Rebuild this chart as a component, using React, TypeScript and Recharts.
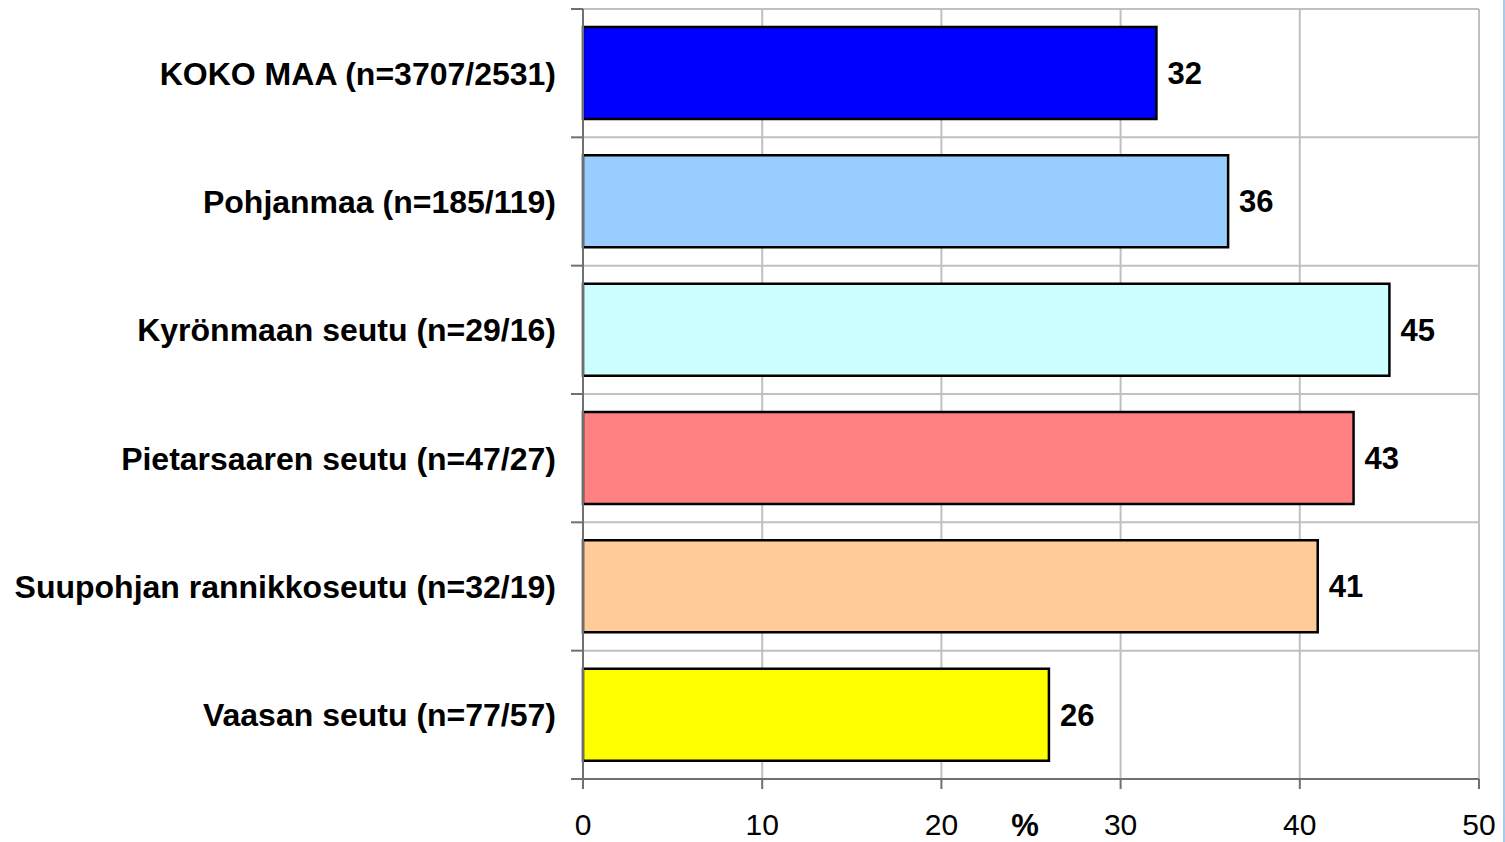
import React from "react";
import { BarChart, Bar, XAxis, YAxis, CartesianGrid, Cell, LabelList } from "recharts";

const categories = [
  "KOKO MAA (n=3707/2531)",
  "Pohjanmaa (n=185/119)",
  "Kyrönmaan seutu (n=29/16)",
  "Pietarsaaren seutu (n=47/27)",
  "Suupohjan rannikkoseutu (n=32/19)",
  "Vaasan seutu (n=77/57)",
];
const values = [32, 36, 45, 43, 41, 26];
const barColors = ["#0000ff", "#99ccff", "#ccffff", "#ff8080", "#ffcc99", "#ffff00"];
const xTicks = [0, 10, 20, 30, 40, 50];

const data = categories.map((name, i) => ({ name, value: values[i] }));

const FONT = "Liberation Sans, Arial, sans-serif";
const W = 1505;
const H = 842;
const TOP = 9;
const XAXIS_H = 63;
const HALF_BAND = (H - TOP - XAXIS_H) / categories.length / 2;

// category label plus tick marks at the band edges
const CategoryTick = (props: any) => {
  const { x, y, payload, index } = props;
  const axisX = x + 15 + 12;
  return (
    <g>
      <line x1={axisX - 12} x2={axisX} y1={y - HALF_BAND} y2={y - HALF_BAND} stroke="#707070" strokeWidth={2} />
      {index === categories.length - 1 && (
        <line x1={axisX - 12} x2={axisX} y1={y + HALF_BAND} y2={y + HALF_BAND} stroke="#707070" strokeWidth={2} />
      )}
      <text x={x} y={y} dy="0.355em" textAnchor="end" fill="#000" fontSize={32} fontWeight="bold" fontFamily={FONT}>
        {payload.value}
      </text>
    </g>
  );
};

const NumberTick = (props: any) => {
  const { x, y, payload } = props;
  return (
    <text x={x} y={y} dy="0.71em" textAnchor="middle" fill="#000" fontSize={30} fontFamily={FONT}>
      {payload.value}
    </text>
  );
};

export default function App() {
  return (
    <div style={{ position: "fixed", left: 0, top: 0, width: W, height: H, background: "#fff" }}>
      <div style={{ position: "absolute", left: 1503, top: 0, width: 2, height: H, background: "#a6cdf0" }} />
      <BarChart
        layout="vertical"
        width={W}
        height={H}
        data={data}
        margin={{ top: TOP, right: 26, left: 0, bottom: 0 }}
        style={{ fontFamily: FONT }}
      >
        <CartesianGrid
          stroke="#c0c0c0"
          strokeWidth={2}
          horizontalCoordinatesGenerator={({ offset }: any) =>
            categories.map((_, i) => offset.top + (i * offset.height) / categories.length).concat(offset.top + offset.height)
          }
        />
        <XAxis
          type="number"
          domain={[0, 50]}
          ticks={xTicks}
          interval={0}
          height={XAXIS_H}
          tickSize={10}
          tickMargin={25}
          axisLine={{ stroke: "#707070", strokeWidth: 2 }}
          tickLine={{ stroke: "#707070", strokeWidth: 2 }}
          tick={<NumberTick />}
          label={{ value: "%", position: "insideBottom", offset: 6, fill: "#000", fontSize: 31, fontWeight: "bold", dx: -6 }}
        />
        <YAxis
          type="category"
          dataKey="name"
          width={583}
          tickSize={12}
          tickMargin={15}
          axisLine={{ stroke: "#707070", strokeWidth: 2 }}
          tickLine={false}
          tick={<CategoryTick />}
        />
        <Bar dataKey="value" barSize={92} stroke="#000" strokeWidth={2.5} isAnimationActive={false}>
          {data.map((_, i) => (
            <Cell key={i} fill={barColors[i]} />
          ))}
          <LabelList dataKey="value" position="right" offset={11} fill="#000" fontSize={31} fontWeight="bold" fontFamily={FONT} />
        </Bar>
      </BarChart>
    </div>
  );
}
